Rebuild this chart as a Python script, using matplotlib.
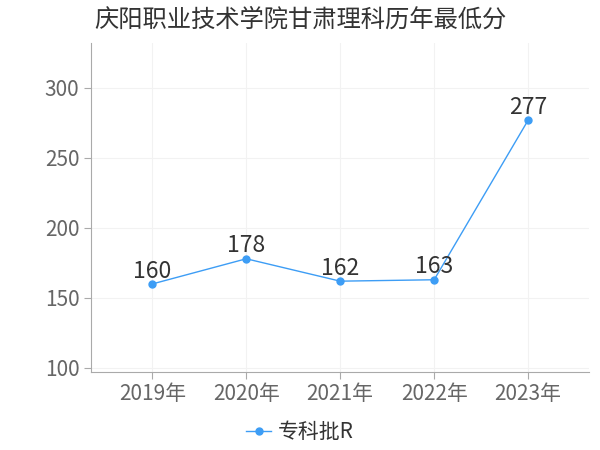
import matplotlib
matplotlib.use("Agg")
import matplotlib.pyplot as plt

plt.rcParams["font.family"] = ["Noto Sans CJK SC", "DejaVu Sans"]

years = ["2019年", "2020年", "2021年", "2022年", "2023年"]
scores = [160, 178, 162, 163, 277]
series_name = "专科批R"

LINE_COLOR = "#3d9df5"

fig = plt.figure(figsize=(6, 4.5), dpi=100)
ax = fig.add_axes([0.152, 0.173, 0.83, 0.731])

x = list(range(len(years)))

ax.plot(
    x,
    scores,
    color=LINE_COLOR,
    linewidth=1,
    marker="o",
    markersize=5,
    label=series_name,
)

for xi, value in zip(x, scores):
    ax.text(
        xi,
        value + 1,
        f"{value}",
        ha="center",
        va="bottom",
        fontsize=16.5,
        color="#333333",
    )

ax.set_xlim(-0.65, len(years) - 0.35)
ax.set_ylim(97, 332)

ax.set_xticks(x)
ax.set_xticklabels(years)
ax.set_yticks([100, 150, 200, 250, 300])

ax.tick_params(axis="both", colors="#aaaaaa", labelcolor="#666666", labelsize=15, length=5)
ax.tick_params(axis="x", pad=3)

for side in ["top", "right"]:
    ax.spines[side].set_visible(False)
for side in ["left", "bottom"]:
    ax.spines[side].set_color("#aaaaaa")

ax.grid(color="#f2f2f2", linewidth=0.8)
ax.set_axisbelow(True)

fig.text(
    0.5,
    0.957,
    "庆阳职业技术学院甘肃理科历年最低分",
    ha="center",
    va="center",
    fontsize=17.5,
    color="#333333",
)

fig.legend(
    loc="center",
    bbox_to_anchor=(0.5, 0.04),
    frameon=False,
    fontsize=15,
    handlelength=1.2,
    handletextpad=0.3,
    labelcolor="#333333",
)

fig.savefig("out.png", dpi=100)
plt.close(fig)
